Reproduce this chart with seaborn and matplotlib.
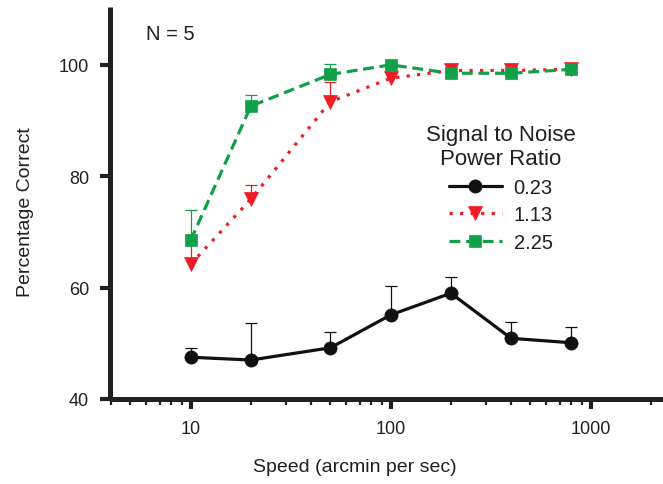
import numpy as np
import pandas as pd
import seaborn as sns
import matplotlib
matplotlib.use("Agg")
import matplotlib.pyplot as plt
from matplotlib.ticker import LogLocator, FixedLocator, NullFormatter

# --- data -------------------------------------------------------------
speeds = [10, 20, 50, 100, 200, 400, 800]          # arcmin per sec
ratio_labels = ["0.23", "1.13", "2.25"]           # signal-to-noise power ratio

pct_023 = [47.5, 47.0, 49.2, 55.1, 59.0, 50.9, 50.1]
pct_113 = [64.2, 75.9, 93.4, 97.6, 99.0, 99.0, 99.2]
pct_225 = [68.5, 92.6, 98.3, 100.0, 98.5, 98.5, 99.2]

# upper (one-sided) error bars
err_023 = [1.7, 6.6, 2.8, 5.2, 2.9, 3.0, 2.9]
err_113 = [3.8, 2.5, 3.5, 0.0, 0.4, 0.4, 0.0]
err_225 = [5.4, 2.0, 1.8, 0.0, 0.0, 0.0, 0.0]

y_ticks = [40, 60, 80, 100]
x_ticks = [10, 100, 1000]

# --- styling ----------------------------------------------------------
sns.set_style("ticks")
plt.rcParams["font.family"] = ["Liberation Sans", "DejaVu Sans"]
ink = "#231f20"
plt.rcParams["text.color"] = ink

colors = {"0.23": "#111111", "1.13": "#ee1c25", "2.25": "#10a047"}
markers = {"0.23": "o", "1.13": "v", "2.25": "s"}
msizes = {"0.23": 9.5, "1.13": 9.5, "2.25": 8.0}
lstyles = {"0.23": "-", "1.13": (0, (1.0, 2.3)), "2.25": (0, (3.4, 1.8))}

df = pd.DataFrame({
    "speed": speeds * 3,
    "pct": pct_023 + pct_113 + pct_225,
    "err": err_023 + err_113 + err_225,
    "ratio": [r for r in ratio_labels for _ in speeds],
})

fig = plt.figure(figsize=(6.63, 4.85), dpi=100)
ax = fig.add_axes([110 / 663, 85 / 485, 553 / 663, 392 / 485])

# one-sided (upper) error bars with a cap only at the top, beneath the curves
for r in ratio_labels:
    sub = df[(df["ratio"] == r) & (df["err"] > 0)]
    top = sub["pct"] + sub["err"]
    ax.vlines(sub["speed"], sub["pct"], top, colors=colors[r],
              linewidth=0.9, zorder=1)
    ax.plot(sub["speed"], top, linestyle="none", marker="_",
            markersize=8.5, markeredgewidth=0.9, color=colors[r], zorder=1)

# the curves
for r in ratio_labels:
    sub = df[df["ratio"] == r]
    sns.lineplot(data=sub, x="speed", y="pct", ax=ax,
                 color=colors[r], marker=markers[r], markersize=msizes[r],
                 markeredgecolor=colors[r], markeredgewidth=0.5,
                 linestyle=lstyles[r], linewidth=2.3,
                 errorbar=None, label=r, zorder=2)

# --- axes -------------------------------------------------------------
ax.set_xscale("log")
ax.set_xlim(3.95, 2300)
ax.set_ylim(40, 110.4)

ax.xaxis.set_major_locator(FixedLocator(x_ticks))
ax.set_xticklabels([str(t) for t in x_ticks])
ax.xaxis.set_minor_locator(LogLocator(base=10, subs=np.arange(2, 10)))
ax.xaxis.set_minor_formatter(NullFormatter())
ax.set_yticks(y_ticks)
ax.set_yticklabels([str(t) for t in y_ticks])

sns.despine(ax=ax)
for side in ("left", "bottom"):
    ax.spines[side].set_linewidth(3.6)
    ax.spines[side].set_color(ink)
    ax.spines[side].set_capstyle("butt")

ax.tick_params(axis="both", which="major", length=7, width=3,
               color=ink, labelcolor=ink, labelsize=13)
ax.tick_params(axis="y", which="major", pad=8)
ax.tick_params(axis="x", which="major", pad=8)
ax.tick_params(axis="x", which="minor", length=4, width=1.6, color=ink)

ax.set_xlabel("Speed (arcmin per sec)", fontsize=14, color=ink)
ax.set_ylabel("Percentage Correct", fontsize=14, color=ink)
ax.xaxis.set_label_coords((355 - 110) / 553, -0.15)
ax.yaxis.set_label_coords((34 - 110) / 553, 0.48)

ax.text(146 / 663, (485 - 34) / 485, "N = 5", transform=fig.transFigure,
        fontsize=14.5, ha="left", va="center", color=ink)

handles, labels = ax.get_legend_handles_labels()
leg = ax.legend(handles, labels, title="Signal to Noise\nPower Ratio",
                loc="center", bbox_to_anchor=(501 / 663, (485 - 189) / 485),
                bbox_transform=fig.transFigure, frameon=False,
                fontsize=14.5, title_fontsize=16, handlelength=2.6,
                handletextpad=0.6, labelspacing=0.42, borderpad=0)
leg.get_title().set_multialignment("center")
leg.get_title().set_color(ink)
for t in leg.get_texts():
    t.set_color(ink)

fig.savefig("out.png", dpi=100)
